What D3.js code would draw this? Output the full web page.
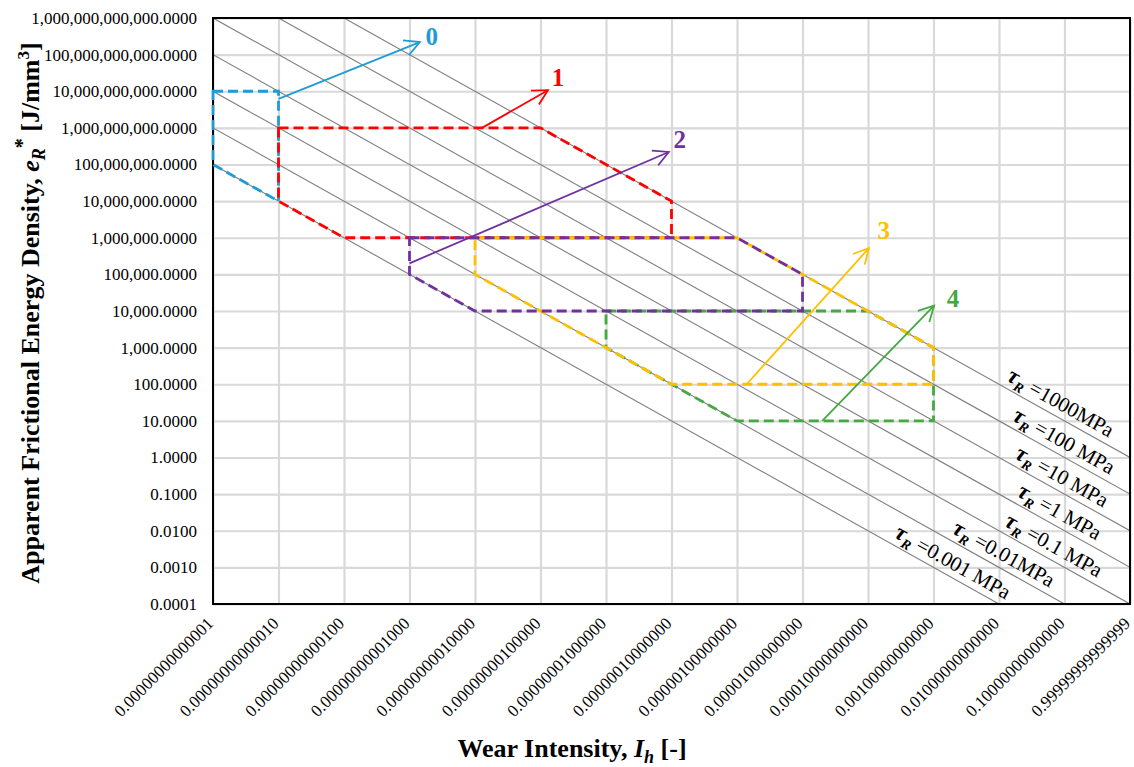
<!DOCTYPE html>
<html>
<head>
<meta charset="utf-8">
<script src="https://cdn.jsdelivr.net/npm/d3@7"></script>
<style>
  html, body { margin: 0; padding: 0; background: #fff; }
  svg { display: block; }
  text { font-family: "Liberation Serif", "DejaVu Serif", serif; }
</style>
</head>
<body>
<svg id="chart" width="1134" height="767"></svg>
<script>
// ---------------- DATA ----------------
const xTickValues = [1e-14, 1e-13, 1e-12, 1e-11, 1e-10, 1e-9, 1e-8, 1e-7, 1e-6, 1e-5, 1e-4, 1e-3, 1e-2, 1e-1, 1];
const xTickLabels = [
  "0.00000000000001", "0.00000000000010", "0.00000000000100", "0.00000000001000",
  "0.00000000010000", "0.00000000100000", "0.00000001000000", "0.00000010000000",
  "0.00000100000000", "0.00001000000000", "0.00010000000000", "0.00100000000000",
  "0.01000000000000", "0.10000000000000", "0.99999999999999"
];
const yTickValues = [1e12, 1e11, 1e10, 1e9, 1e8, 1e7, 1e6, 1e5, 1e4, 1e3, 1e2, 1e1, 1, 1e-1, 1e-2, 1e-3, 1e-4];
const yTickLabels = [
  "1,000,000,000,000.0000", "100,000,000,000.0000", "10,000,000,000.0000",
  "1,000,000,000.0000", "100,000,000.0000", "10,000,000.0000", "1,000,000.0000",
  "100,000.0000", "10,000.0000", "1,000.0000", "100.0000", "10.0000", "1.0000",
  "0.1000", "0.0100", "0.0010", "0.0001"
];

// constant shear-stress lines: [I_h, e_R*] end points
const tauNames = ["1000MPa", "100 MPa", "10 MPa", "1 MPa", "0.1 MPa", "0.01MPa", "0.001 MPa"];
const tauLines = [
  [[1e-12, 1e12], [1, 1]],
  [[1e-13, 1e12], [1, 1e-1]],
  [[1e-14, 1e12], [1, 1e-2]],
  [[1e-14, 1e11], [1, 1e-3]],
  [[1e-14, 1e10], [1, 1e-4]],
  [[1e-14, 1e9], [1e-1, 1e-4]],
  [[1e-14, 1e8], [1e-2, 1e-4]]
];
// where along each line its label sits (I_h value)
const tauLabelAt = [0.069, 0.077, 0.072, 0.066, 0.054, 0.0093, 0.00155];

// wear regimes (closed dashed outlines), [I_h, e_R*]
const regimeNames = ["0", "1", "2", "3", "4"];
const regime0 = [[1e-14, 1e10], [1e-13, 1e10], [1e-13, 1e7], [1e-14, 1e8]];
const regime1 = [[1e-13, 1e9], [1e-9, 1e9], [1e-7, 1e7], [1e-7, 1e6], [1e-12, 1e6], [1e-13, 1e7]];
const regime2 = [[1e-11, 1e6], [1e-6, 1e6], [1e-5, 1e5], [1e-5, 1e4], [1e-10, 1e4], [1e-11, 1e5]];
const regime3 = [[1e-10, 1e6], [1e-6, 1e6], [1e-3, 1e3], [1e-3, 1e2], [1e-7, 1e2], [1e-10, 1e5]];
const regime4 = [[1e-8, 1e4], [1e-4, 1e4], [1e-3, 1e3], [1e-3, 1e1], [1e-6, 1e1], [1e-8, 1e3]];

// arrows: [start, end] in [I_h, e_R*]
const arrow0 = [[1e-13, 6.2e9], [1.44e-11, 2.2e11]];
const arrow1 = [[1.28e-10, 1e9], [1.3e-9, 1.07e10]];
const arrow2 = [[1e-11, 2.0e5], [9.1e-8, 2.2e8]];
const arrow3 = [[1.4e-6, 1e2], [1.03e-4, 5.2e5]];
const arrow4 = [[2.0e-5, 1e1], [1.02e-3, 1.4e4]];

// ---------------- STYLE / LAYOUT ----------------
const colors = ["#1f9bd8", "#ff0000", "#7030a0", "#ffc000", "#44a843"];
const regimes = [regime0, regime1, regime2, regime3, regime4];
const arrows = [arrow0, arrow1, arrow2, arrow3, arrow4];
const arrowLabelOffset = [[12, -6], [10, -13], [11, -12], [15, -18], [19, -7]];
const drawOrder = [0, 1, 4, 3, 2];

const W = 1134, H = 767;
const L = 213, R = 1130, T = 18, B = 604;

const svg = d3.select("#chart");
const x = d3.scaleLog().domain([1e-14, 1]).range([L, R]);
const y = d3.scaleLog().domain([1e-4, 1e12]).range([B, T]);

// grid
svg.append("g")
  .attr("transform", `translate(0,${B})`)
  .call(d3.axisBottom(x).tickValues(xTickValues).tickSize(-(B - T)).tickFormat(""))
  .call(g => g.select(".domain").remove())
  .call(g => g.selectAll("line").attr("stroke", "#d9d9d9").attr("stroke-width", 2.2));
svg.append("g")
  .attr("transform", `translate(${L},0)`)
  .call(d3.axisLeft(y).tickValues(yTickValues).tickSize(-(R - L)).tickFormat(""))
  .call(g => g.select(".domain").remove())
  .call(g => g.selectAll("line").attr("stroke", "#d9d9d9").attr("stroke-width", 2.2));

// clip
svg.append("clipPath").attr("id", "plotclip")
  .append("rect").attr("x", L).attr("y", T).attr("width", R - L).attr("height", B - T);

const line = d3.line().x(d => x(d[0])).y(d => y(d[1]));

// tau lines
const tauG = svg.append("g").attr("clip-path", "url(#plotclip)");
tauLines.forEach(seg => {
  tauG.append("path").attr("d", line(seg))
    .attr("fill", "none").attr("stroke", "#7f7f7f").attr("stroke-width", 1.1);
});

// border
svg.append("rect").attr("x", L).attr("y", T).attr("width", R - L).attr("height", B - T)
  .attr("fill", "none").attr("stroke", "#000").attr("stroke-width", 2);

// tau labels
const ang = Math.atan2(y(1e-4) - y(1e-3), x(1e-3) - x(1e-4)) * 180 / Math.PI;
tauLines.forEach((seg, i) => {
  const [p0, p1] = seg;
  const xi = tauLabelAt[i];
  const t = (Math.log10(xi) - Math.log10(p0[0])) / (Math.log10(p1[0]) - Math.log10(p0[0]));
  const ly = Math.pow(10, Math.log10(p0[1]) + t * (Math.log10(p1[1]) - Math.log10(p0[1])));
  const px = x(xi), py = y(ly);
  const tx = svg.append("text")
    .attr("transform", `translate(${px},${py}) rotate(${ang})`)
    .attr("text-anchor", "middle")
    .attr("dy", -7)
    .attr("font-size", 21)
    .attr("fill", "#000");
  tx.append("tspan").attr("font-weight", "bold").attr("font-style", "italic").attr("font-size", 23).text("τ");
  tx.append("tspan").attr("font-weight", "bold").attr("font-style", "italic").attr("font-size", 14).attr("dy", 5).text("R");
  tx.append("tspan").attr("dy", -5).text(" =" + tauNames[i]);
});

// regimes
const regG = svg.append("g");
drawOrder.forEach(i => {
  regG.append("path")
    .attr("d", line(regimes[i]) + "Z")
    .attr("fill", "none")
    .attr("stroke", colors[i])
    .attr("stroke-width", 2.8)
    .attr("stroke-dasharray", "10,5");
});

// arrows
const arrG = svg.append("g");
arrows.forEach((a, i) => {
  const x0 = x(a[0][0]), y0 = y(a[0][1]), x1 = x(a[1][0]), y1 = y(a[1][1]);
  arrG.append("path").attr("d", line(a))
    .attr("fill", "none").attr("stroke", colors[i]).attr("stroke-width", 1.8);
  const th = Math.atan2(y0 - y1, x0 - x1);
  const len = 17, half = 28 * Math.PI / 180;
  const ax = x1 + len * Math.cos(th + half), ay = y1 + len * Math.sin(th + half);
  const bx = x1 + len * Math.cos(th - half), by = y1 + len * Math.sin(th - half);
  arrG.append("path").attr("d", `M${ax},${ay}L${x1},${y1}L${bx},${by}`)
    .attr("fill", "none").attr("stroke", colors[i]).attr("stroke-width", 1.8)
    .attr("stroke-linejoin", "miter");
  arrG.append("text")
    .attr("x", x1 + arrowLabelOffset[i][0]).attr("y", y1 + arrowLabelOffset[i][1])
    .attr("text-anchor", "middle").attr("dominant-baseline", "central")
    .attr("font-size", 25).attr("font-weight", "bold").attr("fill", colors[i])
    .text(regimeNames[i]);
});

// y axis labels
svg.append("g")
  .attr("transform", `translate(${L},0)`)
  .call(d3.axisLeft(y).tickValues(yTickValues).tickSize(0).tickPadding(16)
    .tickFormat((d, i) => yTickLabels[i]))
  .call(g => g.select(".domain").remove())
  .call(g => g.selectAll("text").attr("font-size", 17).attr("fill", "#000")
    .attr("font-family", "Liberation Serif, serif"));

// x axis labels
svg.append("g")
  .attr("transform", `translate(0,${B})`)
  .call(d3.axisBottom(x).tickValues(xTickValues).tickSize(0)
    .tickFormat((d, i) => xTickLabels[i]))
  .call(g => g.select(".domain").remove())
  .call(g => g.selectAll("text")
    .attr("font-size", 17).attr("fill", "#000").attr("font-family", "Liberation Serif, serif")
    .attr("text-anchor", "end")
    .attr("x", -14).attr("y", 15).attr("dy", 0)
    .attr("transform", "rotate(-45)"));

// axis titles
const yt = svg.append("text")
  .attr("transform", `translate(39,313) rotate(-90)`)
  .attr("text-anchor", "middle")
  .attr("font-size", 26).attr("font-weight", "bold").attr("fill", "#000");
yt.append("tspan").text("Apparent Frictional Energy Density, ");
yt.append("tspan").attr("font-style", "italic").text("e");
yt.append("tspan").attr("font-style", "italic").attr("font-size", 18).attr("dy", 6).text("R");
yt.append("tspan").attr("font-size", 20).attr("dy", -16).text("*");
yt.append("tspan").attr("dy", 10).text("  [J/mm");
yt.append("tspan").attr("font-size", 17).attr("dy", -10).text("3");
yt.append("tspan").attr("dy", 10).text("]");

const xt = svg.append("text")
  .attr("x", 572).attr("y", 757)
  .attr("text-anchor", "middle")
  .attr("font-size", 26).attr("font-weight", "bold").attr("fill", "#000");
xt.append("tspan").text("Wear Intensity, ");
xt.append("tspan").attr("font-style", "italic").text("I");
xt.append("tspan").attr("font-style", "italic").attr("font-size", 18).attr("dy", 6).text("h");
xt.append("tspan").attr("dy", -6).text(" [-]");
</script>
</body>
</html>
